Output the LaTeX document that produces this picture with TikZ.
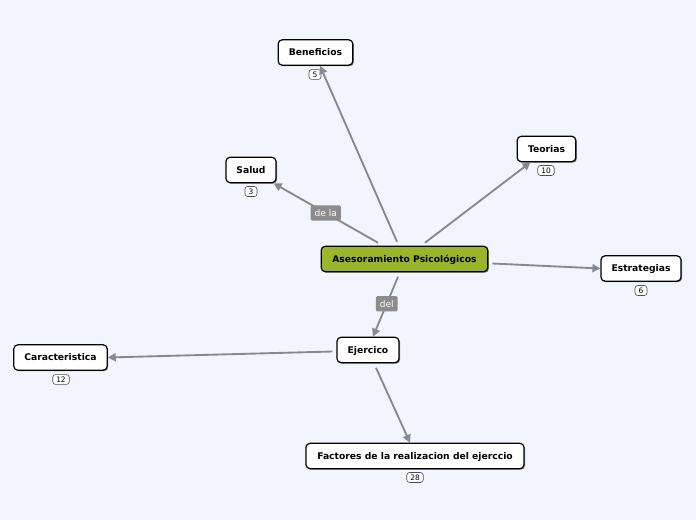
\documentclass[tikz,border=0pt]{standalone}
\usepackage{fontspec}
\setmainfont{DejaVu Sans}
\usetikzlibrary{arrows.meta,shadows,calc}
\definecolor{bgc}{RGB}{242,245,254}
\definecolor{centralc}{RGB}{156,180,42}
\definecolor{edgec}{RGB}{136,136,144}
\definecolor{lblc}{RGB}{140,140,140}
\tikzset{
  topic/.style={draw=black, line width=0.9pt, rounded corners=3pt, fill=white,
    minimum height=19pt, inner sep=2pt, text depth=0pt, font=\fontsize{6.9}{8}\selectfont\bfseries,
    drop shadow={shadow xshift=0.8pt, shadow yshift=-0.8pt, opacity=0.45, fill=black}},
  maintopic/.style={topic, fill=centralc},
  badge/.style={draw=black!70, line width=0.45pt, rounded corners=2pt, fill=white,
    inner xsep=2.6pt, inner ysep=1.6pt, minimum width=9pt, font=\fontsize{5.6}{6}\selectfont},
  conn/.style={draw=edgec, line width=1.4pt, -{Triangle[length=6pt,width=6pt]}},
  elabel/.style={fill=lblc, text=white, inner xsep=3pt, inner ysep=3pt,
    rounded corners=1pt, font=\fontsize{6.8}{8}\selectfont}
}
\begin{document}
\begin{tikzpicture}[x=0.75pt,y=-0.75pt]
\fill[bgc] (0,0) rectangle (696,520);
\useasboundingbox (0,0) rectangle (696,520);

\node[maintopic, minimum width=125pt] (c) at (404.5,259) {Asesoramiento Psicológicos};
\node[topic, minimum width=56pt] (ben) at (315.5,52.5) {Beneficios};
\node[topic, minimum width=37.5pt] (sal) at (251,170) {Salud};
\node[topic, minimum width=44pt] (teo) at (546.5,149) {Teorias};
\node[topic, minimum width=60pt] (est) at (641,268.5) {Estrategias};
\node[topic, minimum width=46.5pt] (eje) at (368,350) {Ejercico};
\node[topic, minimum width=70pt] (car) at (60.5,357.5) {Caracteristica};
\node[topic, minimum width=163.5pt] (fac) at (415,456) {Factores de la realizacion del ejerccio};

\node[badge] (bben) at (315,74.5) {5};
\node[badge] (bsal) at (251,191.5) {3};
\node[badge] (bteo) at (546,170.5) {10};
\node[badge] (best) at (641,290.5) {6};
\node[badge] (bcar) at (61,379.5) {12};
\node[badge] (bfac) at (415,477.5) {28};

\coordinate (s1) at ($(c.north)+(-7.5,-4)$);
\coordinate (s2) at ($(c.north)+(-26.5,-3)$);
\coordinate (s3) at ($(c.north)+(20.5,-3)$);
\coordinate (s4) at ($(c.east)+(4,4.5)$);
\coordinate (s5) at ($(c.south)+(-6.5,4.5)$);
\coordinate (s6) at ($(eje.west)+(-4,1.5)$);
\coordinate (s7) at ($(eje.south)+(8,4.5)$);

\draw[conn] (s1) -- ($(ben.south)+(4.5,0)$);
\draw[conn] (s2) -- node[elabel] (l1) {de la} ($(sal.south east)+(-3,0)$);
\draw[conn] (s3) -- ($(teo.south)+(-16,0)$);
\draw[conn] (s4) -- (est.west);
\draw[conn] (s5) -- node[elabel, pos=0.45] (l2) {del} ($(eje.north)+(5,0)$);
\draw[conn] (s6) -- (car.east);
\draw[conn] (s7) -- ($(fac.north)+(-5,0)$);
\end{tikzpicture}
\end{document}
